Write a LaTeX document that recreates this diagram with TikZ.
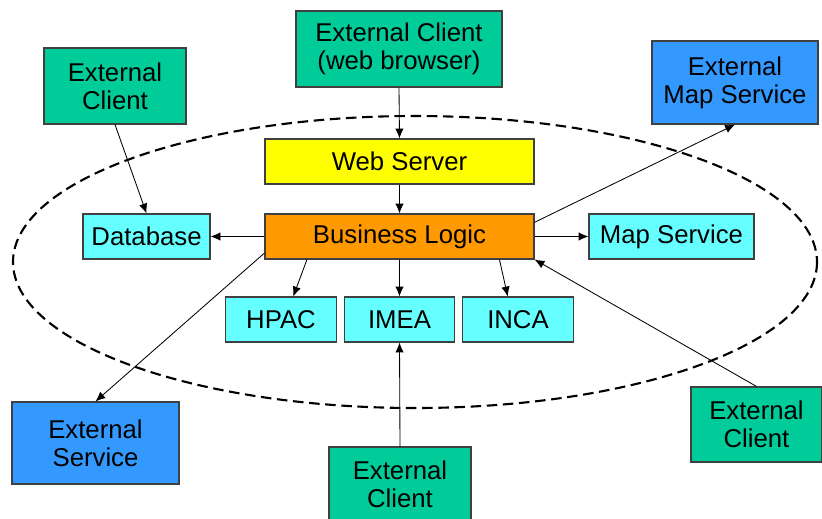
\documentclass[tikz,border=0pt]{standalone}
\usepackage{fontspec}
\setmainfont{Liberation Sans}
\usepackage{tikz}
\usetikzlibrary{arrows.meta,shapes}
\usetikzlibrary{positioning}

\definecolor{clientgreen}{RGB}{0,204,153}
\definecolor{extblue}{RGB}{51,153,255}
\definecolor{modcyan}{RGB}{102,255,255}
\definecolor{webyellow}{RGB}{255,255,0}
\definecolor{logicorange}{RGB}{255,153,0}

\tikzset{box/.style={draw=black!75, line width=0.8pt, inner sep=0pt, align=center,
    font=\fontsize{18.3}{19.9}\selectfont},
  link/.style={-{Latex[length=7pt,width=6pt]}, line width=0.6pt}}

\begin{document}
\begin{tikzpicture}[x=0.025cm, y=-0.025cm]
 \useasboundingbox (0,0) rectangle (822,519);

 %system boundary
 \draw[line width=1.5pt, dash pattern=on 7.5pt off 4pt] (415,262) ellipse (402 and 146);

 %clients
 \node[box, fill=clientgreen, minimum width=3.55cm, minimum height=1.9cm] (ECL) at (115,86) {External\\Client};
 \node[box, fill=clientgreen, minimum width=5.15cm, minimum height=1.9cm] (ECW) at (399,49) {External Client\\(web browser)};
 \node[box, fill=clientgreen, minimum width=3.55cm, minimum height=1.85cm] (ECB) at (400,484) {External\\Client};
 \node[box, fill=clientgreen, minimum width=3.275cm, minimum height=1.875cm] (ECR) at (756.5,424.5) {External\\Client};

 %external services
 \node[box, fill=extblue, minimum width=4.15cm, minimum height=2.075cm] (EMS) at (735,82.5) {External\\Map Service};
 \node[box, fill=extblue, minimum width=4.175cm, minimum height=2.05cm] (ES) at (95.5,443) {External\\Service};

 %inside
 \node[box, fill=webyellow, minimum width=6.725cm, minimum height=1.125cm] (WS) at (399.5,161.5) {Web Server};
 \node[box, fill=logicorange, minimum width=6.725cm, minimum height=1.125cm] (BL) at (399.5,236.5) {Business Logic};
 \node[box, fill=modcyan, minimum width=3.175cm, minimum height=1.125cm] (DB) at (146.5,236.5) {Database};
 \node[box, fill=modcyan, minimum width=4.125cm, minimum height=1.125cm] (MS) at (671.5,236.5) {Map Service};

 \foreach \x/\name in {281/HPAC, 399.5/IMEA, 518/INCA} {
   \node[box, fill=modcyan, minimum width=2.76cm, minimum height=1.125cm] (\name) at (\x,319.5) {\name};
 }

 %arrows
 \draw[link] (ECW.south) -- (WS.north);
 \draw[link] (WS.south) -- (BL.north);
 \draw[link] (ECL.south) -- (DB.north);
 \draw[link] (BL.west) -- (DB.east);
 \draw[link] (BL.east) -- (MS.west);
 \draw[link] (BL.6) -- (EMS.south);
 \draw[link] (BL.187) -- (ES.north);
 \draw[link] (BL.194) -- (HPAC.62);
 \draw[link] (BL.south) -- (IMEA.north);
 \draw[link] (BL.-13) -- (INCA.114);
 \draw[link] (ECB.north) -- (IMEA.south);
 \draw[link] (ECR.north) -- (BL.south east);
\end{tikzpicture}
\end{document}
